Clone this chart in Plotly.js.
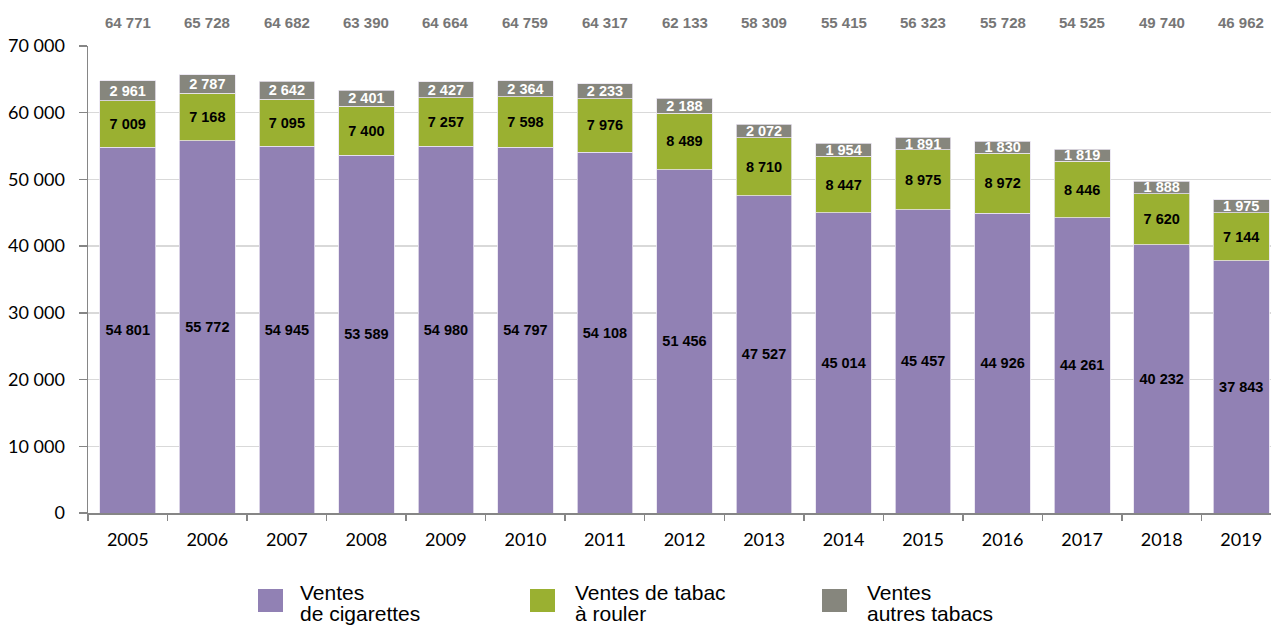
<!DOCTYPE html>
<html><head><meta charset="utf-8">
<script src="https://cdn.plot.ly/plotly-3.0.1.min.js"></script>
<style>html,body{margin:0;padding:0;background:#fff;overflow:hidden;}#chart{width:1281px;height:626px;}</style>
</head><body><div id="chart"></div>
<script>
const years = ['2005','2006','2007','2008','2009','2010','2011','2012','2013','2014','2015','2016','2017','2018','2019'];
const cigarettes = [54801,55772,54945,53589,54980,54797,54108,51456,47527,45014,45457,44926,44261,40232,37843];
const rolling = [7009,7168,7095,7400,7257,7598,7976,8489,8710,8447,8975,8972,8446,7620,7144];
const others = [2961,2787,2642,2401,2427,2364,2233,2188,2072,1954,1891,1830,1819,1888,1975];
const totals = [64771,65728,64682,63390,64664,64759,64317,62133,58309,55415,56323,55728,54525,49740,46962];
const seriesNames = ['Ventes de cigarettes','Ventes de tabac à rouler','Ventes autres tabacs'];
const legendLines = [['Ventes','de cigarettes'],['Ventes de tabac','à rouler'],['Ventes','autres tabacs']];
const seriesColors = ['#9181B4','#9AB031','#86867D'];
const labelColors = ['#000000','#000000','#ffffff'];

const W = 1281, H = 626;
const mL = 88, mR = 0, mT = 46, mB = 113;
const pw = W - mL - mR, ph = H - mT - mB;
const px = x => (x - mL) / pw;
const py = y => (H - mB - y) / ph;

const seriesData = [cigarettes, rolling, others];
const traces = seriesData.map((d, i) => ({
  type: 'bar', x: years, y: d, name: seriesNames[i],
  marker: {color: seriesColors[i], line: {color: '#e8e4f0', width: 0.8}},
  texttemplate: '%{y:,}', textposition: 'inside', insidetextanchor: 'middle',
  textangle: 0, constraintext: 'none',
  textfont: {family: 'Liberation Sans, Arial, sans-serif', size: 14.5, color: labelColors[i], weight: 'bold'},
  hoverinfo: 'skip', showlegend: false
}));

const fmt = v => String(v).replace(/\B(?=(\d{3})+(?!\d))/g, ' ');
const annotations = totals.map((t, i) => ({
  x: i, y: py(22), yref: 'paper', xref: 'x', text: '<b>' + fmt(t) + '</b>',
  showarrow: false, yanchor: 'middle',
  font: {family: 'Liberation Sans, Arial, sans-serif', size: 15, color: '#767676'}
}));
const shapes = [];
const legendPos = [[258, 298], [530, 573], [822, 865]];
legendPos.forEach((p, i) => {
  shapes.push({type: 'rect', xref: 'paper', yref: 'paper', x0: px(p[0]), x1: px(p[0] + 25),
    y0: py(612), y1: py(589), fillcolor: seriesColors[i], line: {width: 0}});
  legendLines[i].forEach((ln, k) => {
    annotations.push({xref: 'paper', yref: 'paper', x: px(p[1]), y: py(592 + k * 21), xanchor: 'left', yanchor: 'middle',
      align: 'left', showarrow: false, text: ln,
      font: {family: 'Liberation Sans, Arial, sans-serif', size: 21, color: '#000'}});
  });
});

const layout = {
  width: W, height: H, barmode: 'stack', bargap: 0.3,
  separators: ', ',
  margin: {l: mL, r: mR, t: mT, b: mB, pad: 0},
  paper_bgcolor: '#fff', plot_bgcolor: '#fff',
  font: {family: 'Lato, Open Sans, sans-serif', size: 18, color: '#000'},
  xaxis: {type: 'category', range: [-0.5, 14.5], autorange: false, showgrid: false, showline: true, linecolor: '#868686', linewidth: 1.5,
    ticks: 'outside', tickson: 'boundaries', ticklen: 6, tickcolor: '#868686', tickwidth: 1.5, ticklabelstandoff: 10,
    tickfont: {family: 'Lato, Open Sans, sans-serif', size: 18, color: '#000'}, fixedrange: true},
  yaxis: {range: [0, 70000], autorange: false, dtick: 10000, tickformat: ',', showgrid: true, gridcolor: '#d9d9d9', gridwidth: 1.5,
    showline: true, linecolor: '#868686', linewidth: 1.5, ticks: 'outside', ticklen: 8, tickcolor: '#868686', tickwidth: 1.5,
    ticklabelstandoff: 10,
    zeroline: false, tickfont: {family: 'Lato, Open Sans, sans-serif', size: 18, color: '#000'}, fixedrange: true},
  annotations: annotations, shapes: shapes, showlegend: false
};
Plotly.newPlot('chart', traces, layout, {displayModeBar: false, staticPlot: true});
</script></body></html>
